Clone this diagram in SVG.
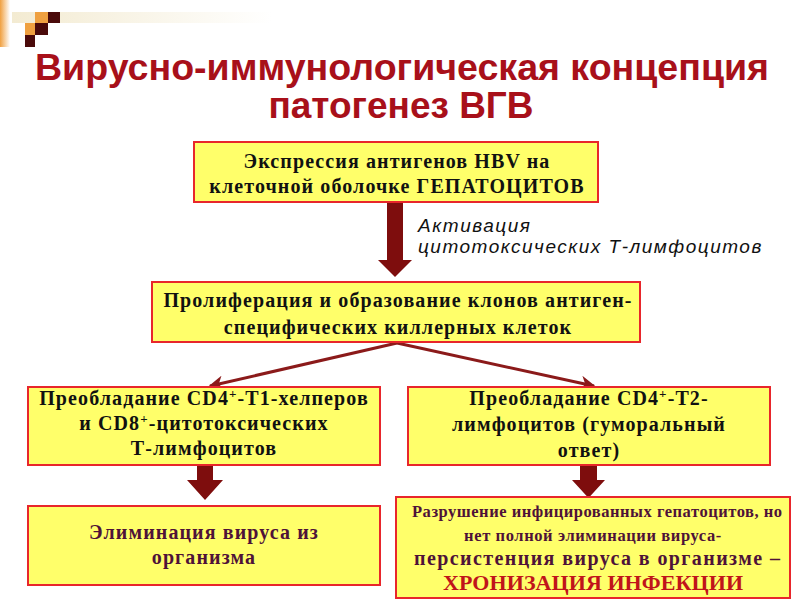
<svg xmlns="http://www.w3.org/2000/svg" width="800" height="600" viewBox="0 0 800 600">
<defs>
<linearGradient id="lg" x1="0" y1="0" x2="1" y2="0">
<stop offset="0" stop-color="#F0A040"/><stop offset="1" stop-color="#FFFFFF"/>
</linearGradient>
<linearGradient id="band" x1="0" y1="0" x2="1" y2="0">
<stop offset="0" stop-color="#F3EBD2"/><stop offset="1" stop-color="#FFFFFF"/>
</linearGradient>
<marker id="ah" viewBox="0 0 10 10" refX="9" refY="5" markerWidth="5" markerHeight="5" orient="auto" markerUnits="strokeWidth">
<path d="M0,0 L10,5 L0,10 L3,5 Z" fill="#8B1A1A"/>
</marker>
</defs>
<style>
.box{fill:#FFFF6A;stroke:#E8262B;stroke-width:2}
.t{font-family:"Liberation Serif","Times New Roman",serif;font-weight:bold;font-size:20px;letter-spacing:1.1px;fill:#111;text-anchor:middle}
.m{fill:#4E1238}
.s{font-size:16.5px;letter-spacing:0}
.r{fill:#C0141A;font-size:22px;letter-spacing:0}
.title{font-family:"Liberation Sans",Arial,sans-serif;font-weight:bold;font-size:37px;fill:#A8101A;text-anchor:middle}
.lab{font-family:"Liberation Sans",Arial,sans-serif;font-style:italic;font-size:19px;letter-spacing:1.5px;fill:#111}
.arr{fill:#7E0D0D}
</style>
<rect width="800" height="600" fill="#FFFFFF"/>
<g id="logo">
<rect x="0" y="0" width="10" height="47" fill="url(#lg)"/>
<rect x="12" y="12" width="260" height="11" fill="url(#band)"/>
<rect x="35" y="12" width="13" height="11" fill="#EFA040"/>
<rect x="48" y="12" width="12" height="11" fill="#4A0A0A"/>
<rect x="25" y="23" width="10" height="12" fill="#EFA040"/>
<rect x="35" y="23" width="13" height="12" fill="#4A0A0A"/>
<rect x="25" y="35" width="10" height="12" fill="#4A0A0A"/>
</g>
<g id="title">
<text class="title" x="402" y="80" textLength="734" lengthAdjust="spacingAndGlyphs">Вирусно-иммунологическая концепция</text>
<text class="title" x="401" y="118">патогенез ВГВ</text>
</g>
<g id="connectors">
<path class="arr" d="M387,203 H403 V260 H412 L395,277 L378,260 H387 Z"/>
<path class="arr" d="M197,465 H213 V480 H223 L205,500 L187,480 H197 Z"/>
<path class="arr" d="M580,465 H597 V480 H605 L588.5,498 L572,480 H580 Z"/>
<line x1="397" y1="343" x2="210" y2="386" stroke="#8B1A1A" stroke-width="3" marker-end="url(#ah)"/>
<line x1="397" y1="343" x2="594" y2="386" stroke="#8B1A1A" stroke-width="3" marker-end="url(#ah)"/>
</g>
<g id="label">
<text class="lab" x="418" y="232">Активация</text>
<text class="lab" x="418" y="253">цитотоксических Т-лимфоцитов</text>
</g>
<g id="n1">
<rect class="box" x="194" y="142" width="404" height="60"/>
<text class="t" x="397" y="168">Экспрессия антигенов HBV на</text>
<text class="t" x="397" y="193">клеточной оболочке ГЕПАТОЦИТОВ</text>
</g>
<g id="n2">
<rect class="box" x="152" y="282" width="488" height="60"/>
<text class="t" x="398" y="307" letter-spacing="0.8">Пролиферация и образование клонов антиген-</text>
<text class="t" x="398" y="334">специфических киллерных клеток</text>
</g>
<g id="n3">
<rect class="box" x="28" y="387" width="352" height="78"/>
<text class="t" x="204" y="405">Преобладание CD4<tspan font-size="13" dy="-7">+</tspan><tspan dy="7">-Т1-хелперов</tspan></text>
<text class="t" x="204" y="430">и CD8<tspan font-size="13" dy="-7">+</tspan><tspan dy="7">-цитотоксических</tspan></text>
<text class="t" x="204" y="455">Т-лимфоцитов</text>
</g>
<g id="n4">
<rect class="box" x="408" y="387" width="362" height="78"/>
<text class="t" x="589" y="405">Преобладание CD4<tspan font-size="13" dy="-7">+</tspan><tspan dy="7">-Т2-</tspan></text>
<text class="t" x="589" y="431">лимфоцитов (гуморальный</text>
<text class="t" x="589" y="457">ответ)</text>
</g>
<g id="n5">
<rect class="box" x="28" y="506" width="352" height="79"/>
<text class="t m" x="204" y="539" letter-spacing="1.3">Элиминация вируса из</text>
<text class="t m" x="204" y="564" letter-spacing="1.3">организма</text>
</g>
<g id="n6">
<rect class="box" x="396" y="497" width="394" height="101"/>
<text class="t m s" x="597" y="517" textLength="370" lengthAdjust="spacing">Разрушение инфицированных гепатоцитов, но</text>
<text class="t m s" x="593" y="541" style="letter-spacing:0.6px">нет полной элиминации вируса-</text>
<text class="t m" x="597" y="565" style="letter-spacing:0" textLength="366" lengthAdjust="spacing">персистенция вируса в организме –</text>
<text class="t r" x="593" y="590" textLength="300" lengthAdjust="spacing">ХРОНИЗАЦИЯ ИНФЕКЦИИ</text>
</g>
</svg>
